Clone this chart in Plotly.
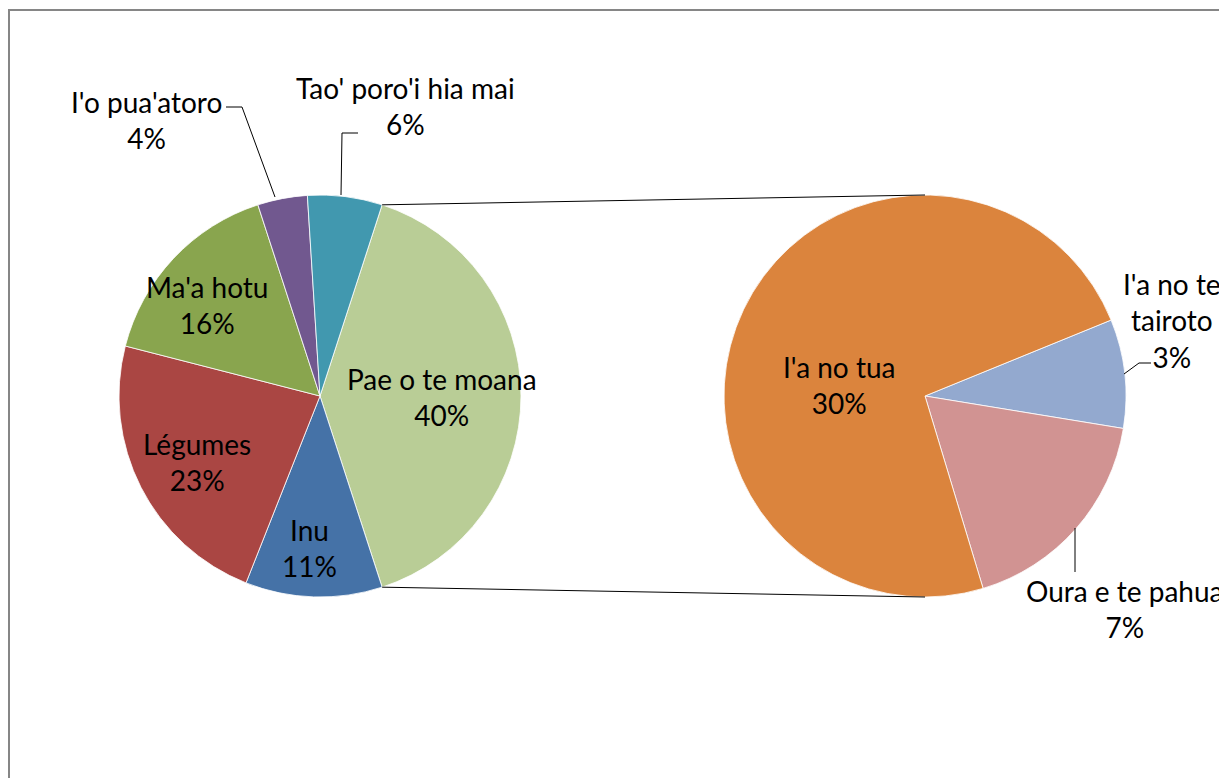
import math
import plotly.graph_objects as go

# ---- data ----
main_labels = ["Pae o te moana", "Inu", "Légumes", "Ma'a hotu", "I'o pua'atoro", "Tao' poro'i hia mai"]
main_values = [40, 11, 23, 16, 4, 6]
main_text = ["40%", "11%", "23%", "16%", "4%", "6%"]

sub_labels = ["I'a no te tairoto", "Oura e te pahua", "I'a no tua"]
sub_values = [3.5, 7.1, 29.4]
sub_text = ["3%", "7%", "30%"]

main_colors = ["#B9CD96", "#4572A7", "#AA4643", "#89A54E", "#71588F", "#4198AF"]
sub_colors = ["#93A9CF", "#D19392", "#DB843D"]

# ---- layout geometry (page pixels) ----
OFF = 8                      # page body margin
W, H = 1227 - OFF, 778 - OFF
R = 201
LC = (320, 396)   # left pie centre
RC = (925, 396)   # right pie centre
FONT = "Lato, 'Open Sans', sans-serif"
FS = 28


def px(x):
    return (x - OFF) / W


def py(y):
    return 1 - (y - OFF) / H


fig = go.Figure()
fig.add_trace(go.Pie(
    labels=main_labels, values=main_values, sort=False, direction="clockwise",
    rotation=90 - 360 * main_values[0] / sum(main_values) / 2,
    marker=dict(colors=main_colors, line=dict(color="white", width=0.8)),
    textinfo="none", hoverinfo="label+percent", showlegend=False,
    domain=dict(x=[px(LC[0] - R), px(LC[0] + R)], y=[py(LC[1] + R), py(LC[1] - R)]),
))
fig.add_trace(go.Pie(
    labels=sub_labels, values=sub_values, sort=False, direction="clockwise",
    rotation=67.8,
    marker=dict(colors=sub_colors, line=dict(color="white", width=0.8)),
    textinfo="none", hoverinfo="label", showlegend=False,
    domain=dict(x=[px(RC[0] - R), px(RC[0] + R)], y=[py(RC[1] + R), py(RC[1] - R)]),
))

# label positions (page pixel centres)
label_pos = {
    "Pae o te moana": (442, 397),
    "Inu": (309, 548),
    "Légumes": (197, 462),
    "Ma'a hotu": (207, 305),
    "I'o pua'atoro": (146, 120),
    "Tao' poro'i hia mai": (405, 106),
    "I'a no tua": (839, 385),
    "I'a no te tairoto": (1172, 320),
    "Oura e te pahua": (1125, 609),
}

annotations = []
for names, texts in ((main_labels, main_text), (sub_labels, sub_text)):
    for n, t in zip(names, texts):
        x, y = label_pos[n]
        if n == "I'a no te tairoto":
            txt = "I'a no te<br>tairoto<br>" + t
        else:
            txt = n + "<br>" + t
        annotations.append(dict(
            x=px(x), y=py(y), xref="paper", yref="paper", text=txt, showarrow=False,
            xanchor="center", yanchor="middle", align="center",
            font=dict(family=FONT, size=FS, color="black"),
        ))

shapes = []
# outer chart border
shapes.append(dict(type="rect", xref="paper", yref="paper", x0=px(9), x1=px(1245), y0=py(800), y1=py(10),
                   line=dict(color="#868686", width=2), fillcolor="rgba(0,0,0,0)"))

# connector lines from the "other" slice edges to the right pie
half = 360 * main_values[0] / sum(main_values) / 2
for sgn in (1, -1):
    a = math.radians(sgn * half)
    x0 = LC[0] + R * math.cos(a)
    y0 = LC[1] - R * math.sin(a)
    x1 = RC[0]
    y1 = RC[1] - sgn * R
    shapes.append(dict(type="line", xref="paper", yref="paper", x0=px(x0), y0=py(y0), x1=px(x1), y1=py(y1),
                       line=dict(color="black", width=1)))


def leader(points):
    d = "M " + " L ".join(f"{px(x)},{py(y)}" for x, y in points)
    return dict(type="path", xref="paper", yref="paper", path=d, line=dict(color="black", width=1))


shapes.append(leader([(226, 107), (242, 107), (275, 197)]))
shapes.append(leader([(358, 133), (342, 133), (341, 195)]))
shapes.append(leader([(1151, 363), (1139, 363), (1124, 374)]))
shapes.append(leader([(1075, 528), (1075, 572)]))

fig.update_layout(
    width=W, height=H, margin=dict(l=0, r=0, t=0, b=0),
    paper_bgcolor="white", plot_bgcolor="white",
    annotations=annotations, shapes=shapes,
)

fig.write_html("out.html")
